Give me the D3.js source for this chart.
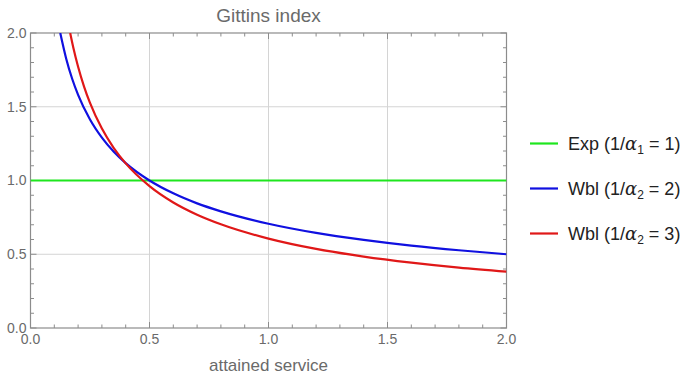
<!DOCTYPE html>
<html>
<head>
<meta charset="utf-8">
<script src="https://cdn.jsdelivr.net/npm/d3@7"></script>
<style>
  html, body { margin: 0; padding: 0; background: #fff; }
  svg { display: block; font-family: "Liberation Sans", Arial, sans-serif; }
</style>
</head>
<body>
<svg id="chart" width="684" height="377"></svg>
<script>
// Attained service (x) and Gittins index (y) for each distribution
const expX  = [0, 2];
const expY  = [1, 1];

const wbl2X = [0.125, 0.15, 0.175, 0.2, 0.25, 0.3, 0.35, 0.4, 0.5, 0.6, 0.7, 0.8, 1.0, 1.2, 1.4, 1.6, 1.8, 2.0];
const wbl2Y = [2.000, 1.826, 1.690, 1.581, 1.414, 1.291, 1.195, 1.118, 1.000, 0.913, 0.845, 0.791, 0.707, 0.645, 0.598, 0.559, 0.527, 0.500];

const wbl3X = [0.1667, 0.18, 0.2, 0.225, 0.25, 0.3, 0.35, 0.4, 0.5, 0.6, 0.7, 0.8, 1.0, 1.2, 1.4, 1.6, 1.8, 2.0];
const wbl3Y = [2.000, 1.900, 1.771, 1.637, 1.526, 1.352, 1.220, 1.116, 0.962, 0.851, 0.768, 0.703, 0.606, 0.536, 0.484, 0.443, 0.409, 0.382];

const majorTicks = [0, 0.5, 1.0, 1.5, 2.0];
const minorTicks = d3.range(0, 21).map(i => i / 10);
const gridTicks  = [0.5, 1.0, 1.5];

const seriesNames  = ["Exp", "Wbl", "Wbl"];
const seriesParams = [["1", "1"], ["2", "2"], ["2", "3"]];
const seriesColors = ["#1ee61e", "#1010e0", "#e01818"];

const svg = d3.select("#chart");
const x = d3.scaleLinear().domain([0, 2]).range([30.5, 506.5]);
const y = d3.scaleLinear().domain([0, 2]).range([328, 33]);

// clip region for the curves
svg.append("defs").append("clipPath").attr("id", "plotClip")
  .append("rect")
  .attr("x", x(0)).attr("y", y(2))
  .attr("width", x(2) - x(0)).attr("height", y(0) - y(2));

// grid lines
const grid = svg.append("g").attr("stroke", "#d4d4d4").attr("stroke-width", 1);
grid.selectAll(".gx").data(gridTicks).join("line")
  .attr("x1", d => x(d)).attr("x2", d => x(d))
  .attr("y1", y(0)).attr("y2", y(2));
grid.selectAll(".gy").data(gridTicks).join("line")
  .attr("y1", d => y(d)).attr("y2", d => y(d))
  .attr("x1", x(0)).attr("x2", x(2));

// frame ticks on all four sides
const tickColor = "#8c8c8c";
const isMajor = d => Math.abs(d * 2 - Math.round(d * 2)) < 1e-9;
const tickLen = d => isMajor(d) ? 6 : 3.5;
const tk = svg.append("g").attr("stroke", tickColor).attr("stroke-width", 1);
tk.selectAll(".tb").data(minorTicks).join("line")
  .attr("x1", d => x(d)).attr("x2", d => x(d))
  .attr("y1", y(0)).attr("y2", d => y(0) - tickLen(d));
tk.selectAll(".tt").data(minorTicks).join("line")
  .attr("x1", d => x(d)).attr("x2", d => x(d))
  .attr("y1", y(2)).attr("y2", d => y(2) + tickLen(d));
tk.selectAll(".tl").data(minorTicks).join("line")
  .attr("y1", d => y(d)).attr("y2", d => y(d))
  .attr("x1", x(0)).attr("x2", d => x(0) + tickLen(d));
tk.selectAll(".tr").data(minorTicks).join("line")
  .attr("y1", d => y(d)).attr("y2", d => y(d))
  .attr("x1", x(2)).attr("x2", d => x(2) - tickLen(d));

// frame
svg.append("rect")
  .attr("x", x(0)).attr("y", y(2))
  .attr("width", x(2) - x(0)).attr("height", y(0) - y(2))
  .attr("fill", "none").attr("stroke", tickColor).attr("stroke-width", 1.2);

// tick labels
const fmt = d3.format(".1f");
const labelColor = "#6a6a6a";
svg.append("g").selectAll("text").data(majorTicks).join("text")
  .attr("x", d => x(d)).attr("y", 344)
  .attr("text-anchor", "middle")
  .attr("font-size", 14).attr("fill", labelColor)
  .text(fmt);
svg.append("g").selectAll("text").data(majorTicks).join("text")
  .attr("x", 26.5).attr("y", d => y(d))
  .attr("dy", "0.35em")
  .attr("text-anchor", "end")
  .attr("font-size", 14).attr("fill", labelColor)
  .text(fmt);

// title and axis label
svg.append("text")
  .attr("x", (x(0) + x(2)) / 2).attr("y", 22)
  .attr("text-anchor", "middle")
  .attr("font-size", 19).attr("fill", "#6a6a6a")
  .text("Gittins index");
svg.append("text")
  .attr("x", (x(0) + x(2)) / 2).attr("y", 371)
  .attr("text-anchor", "middle")
  .attr("font-size", 17).attr("fill", "#6a6a6a")
  .text("attained service");

// curves
const line = d3.line().x(d => x(d[0])).y(d => y(d[1])).curve(d3.curveMonotoneX);
const series = [
  d3.zip(expX, expY),
  d3.zip(wbl2X, wbl2Y),
  d3.zip(wbl3X, wbl3Y)
];
svg.append("g").attr("clip-path", "url(#plotClip)")
  .selectAll("path").data(series).join("path")
  .attr("d", line)
  .attr("fill", "none")
  .attr("stroke", (d, i) => seriesColors[i])
  .attr("stroke-width", 2.2);

// legend
const legend = svg.append("g");
const rowY = [143.5, 188.5, 233.5];
seriesNames.forEach((name, i) => {
  legend.append("line")
    .attr("x1", 530).attr("x2", 558)
    .attr("y1", rowY[i]).attr("y2", rowY[i])
    .attr("stroke", seriesColors[i]).attr("stroke-width", 2.2);
  const t = legend.append("text")
    .attr("x", 568).attr("y", rowY[i] + 6.5)
    .attr("font-size", 18).attr("fill", "#222");
  t.append("tspan").text(name + " (1/");
  t.append("tspan").attr("font-style", "italic").attr("font-family", "'DejaVu Serif', serif").text("α");
  t.append("tspan").attr("font-size", 12).attr("dy", 4).text(seriesParams[i][0]);
  t.append("tspan").attr("dy", -4).text(" = " + seriesParams[i][1] + ")");
});
</script>
</body>
</html>
